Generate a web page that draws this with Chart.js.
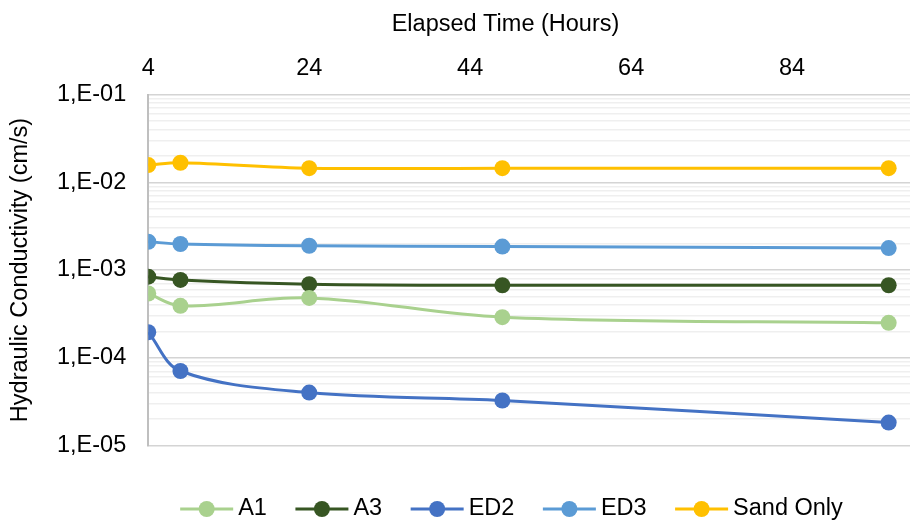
<!DOCTYPE html>
<html>
<head>
<meta charset="utf-8">
<script src="https://cdn.jsdelivr.net/npm/chart.js@4/dist/chart.umd.min.js"></script>
<style>
  html, body { margin: 0; padding: 0; background: #fff; overflow: hidden; }
  #wrap { width: 1011px; height: 521px; }
</style>
</head>
<body>
<div id="wrap"><canvas id="kChart" width="1011" height="521"></canvas></div>
<script>
/* data */
const hours = [4, 8, 24, 48, 96];
const seriesNames = ['A1', 'A3', 'ED2', 'ED3', 'Sand Only'];
const a1 = [5.4e-4, 3.9e-4, 4.8e-4, 2.9e-4, 2.5e-4];
const a3 = [8.4e-4, 7.7e-4, 6.9e-4, 6.7e-4, 6.7e-4];
const ed2 = [1.95e-4, 7.05e-5, 4.0e-5, 3.25e-5, 1.82e-5];
const ed3 = [2.1e-3, 1.98e-3, 1.89e-3, 1.85e-3, 1.78e-3];
const sandOnly = [1.57e-2, 1.67e-2, 1.45e-2, 1.45e-2, 1.45e-2];
const colors = ['#A9D18E', '#375623', '#4472C4', '#5B9BD5', '#FFC000'];
const xTicks = [4, 24, 44, 64, 84];
const yDecades = [-5, -4, -3, -2, -1];

const FONT = { family: '"Liberation Sans", Arial, sans-serif', size: 23.5 };

// 1..9 x 10^n for the minor grid, decades labelled
const yTicks = [];
yDecades.forEach(e => {
  for (let m = 1; m <= 9; m++) {
    if (e === -1 && m > 1) break;
    yTicks.push(m * Math.pow(10, e));
  }
});
const isDecade = v => Math.abs(Math.log10(v) - Math.round(Math.log10(v))) < 1e-9;

const allSeries = [a1, a3, ed2, ed3, sandOnly];
const datasets = allSeries.map((vals, i) => ({
  label: seriesNames[i],
  data: hours.map((h, j) => ({ x: h, y: vals[j] })),
  borderColor: colors[i],
  backgroundColor: colors[i],
  borderWidth: 3,
  pointRadius: 8,
  pointHoverRadius: 8,
  pointBorderWidth: 0,
  tension: 0.35
}));

// legend drawn as line + marker, like the spreadsheet one
const lineLegend = {
  id: 'lineLegend',
  afterDraw(chart) {
    const ctx = chart.ctx;
    const y = 509, seg = 53, gapText = 5, gapItem = 28.5;
    ctx.save();
    ctx.font = FONT.size + 'px ' + FONT.family;
    ctx.textBaseline = 'middle';
    ctx.textAlign = 'left';
    const items = chart.data.datasets.map(ds => ({ ds, w: ctx.measureText(ds.label).width }));
    let total = items.reduce((s, it) => s + seg + gapText + it.w, 0) + gapItem * (items.length - 1);
    let x = chart.width / 2 - total / 2 + 6;
    items.forEach(it => {
      ctx.strokeStyle = it.ds.borderColor;
      ctx.lineWidth = 3;
      ctx.beginPath();
      ctx.moveTo(x, y);
      ctx.lineTo(x + seg, y);
      ctx.stroke();
      ctx.fillStyle = it.ds.backgroundColor;
      ctx.beginPath();
      ctx.arc(x + seg / 2, y, 8, 0, Math.PI * 2);
      ctx.fill();
      ctx.fillStyle = '#000';
      ctx.fillText(it.ds.label, x + seg + gapText, y);
      x += seg + gapText + it.w + gapItem;
    });
    ctx.restore();
  }
};

new Chart(document.getElementById('kChart').getContext('2d'), {
  type: 'line',
  data: { datasets },
  plugins: [lineLegend],
  options: {
    responsive: false,
    devicePixelRatio: 1,
    animation: false,
    layout: { autoPadding: false, padding: { left: 0, right: 0, top: 0, bottom: 75.6 } },
    plugins: {
      legend: { display: false },
      tooltip: { enabled: false },
      title: {
        display: true,
        text: 'Elapsed Time (Hours)',
        color: '#000',
        font: { ...FONT, weight: 'normal' },
        padding: { top: 10.4, bottom: 4.8 }
      }
    },
    scales: {
      x: {
        type: 'linear',
        position: 'top',
        min: 4,
        max: 111.2,
        afterBuildTicks: s => { s.ticks = xTicks.map(v => ({ value: v })); },
        grid: { display: false, drawTicks: false },
        border: { display: false },
        ticks: { color: '#000', font: FONT, padding: 11.5, maxRotation: 0, autoSkip: false }
      },
      y: {
        type: 'logarithmic',
        min: 1e-5,
        max: 1e-1,
        afterBuildTicks: s => { s.ticks = yTicks.map(v => ({ value: v })); },
        grid: {
          drawTicks: false,
          lineWidth: 1.5,
          color: c => (c.tick && isDecade(c.tick.value)) ? '#d4d4d4' : '#efefef'
        },
        border: { display: true, color: '#bfbfbf', width: 2 },
        ticks: {
          color: '#000',
          font: FONT,
          padding: 22,
          autoSkip: false,
          callback: v => {
            if (!isDecade(v)) return '';
            const e = Math.round(Math.log10(v));
            return '1,E-' + String(-e).padStart(2, '0');
          }
        },
        title: {
          display: true,
          text: 'Hydraulic Conductivity (cm/s)',
          color: '#000',
          font: FONT,
          padding: { top: 6.4, bottom: 0.4 }
        }
      }
    }
  }
});
</script>
</body>
</html>
